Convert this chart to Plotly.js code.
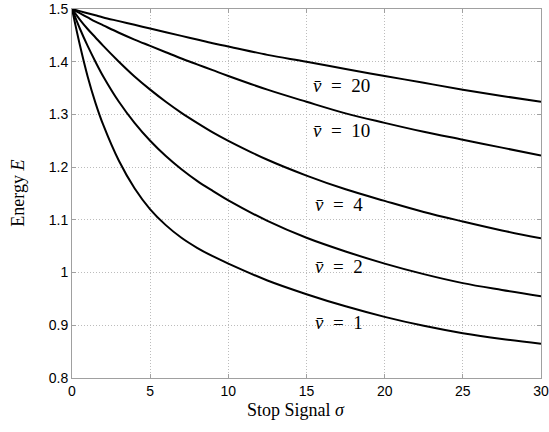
<!DOCTYPE html>
<html>
<head>
<meta charset="utf-8">
<script src="https://cdn.plot.ly/plotly-3.0.1.min.js"></script>
<style>html,body{margin:0;padding:0;background:#fff;}#chart{width:549px;height:432px;}</style>
</head>
<body>
<div id="chart"></div>
<script>
const sigma = [0, 0.5, 1, 1.5, 2, 3, 4, 5, 6, 7, 8, 9, 10, 12.5, 15, 17.5, 20, 22.5, 25, 27.5, 30];
const energyV1  = [1.5, 1.432, 1.372, 1.322, 1.280, 1.212, 1.160, 1.120, 1.090, 1.066, 1.047, 1.031, 1.017, 0.985, 0.959, 0.936, 0.916, 0.899, 0.885, 0.874, 0.865];
const energyV2  = [1.5, 1.463, 1.430, 1.400, 1.372, 1.324, 1.284, 1.250, 1.221, 1.196, 1.174, 1.155, 1.137, 1.098, 1.066, 1.040, 1.017, 0.997, 0.980, 0.967, 0.955];
const energyV4  = [1.5, 1.480, 1.462, 1.446, 1.430, 1.400, 1.372, 1.347, 1.324, 1.303, 1.284, 1.266, 1.250, 1.214, 1.184, 1.158, 1.136, 1.115, 1.097, 1.080, 1.065];
const energyV10 = [1.5, 1.492, 1.484, 1.476, 1.469, 1.455, 1.442, 1.430, 1.418, 1.406, 1.395, 1.384, 1.373, 1.347, 1.324, 1.302, 1.284, 1.267, 1.252, 1.237, 1.222];
const energyV20 = [1.5, 1.496, 1.492, 1.488, 1.484, 1.477, 1.470, 1.463, 1.456, 1.449, 1.442, 1.435, 1.429, 1.413, 1.400, 1.386, 1.373, 1.360, 1.347, 1.335, 1.324];

const seriesNames = ['v̄ = 1', 'v̄ = 2', 'v̄ = 4', 'v̄ = 10', 'v̄ = 20'];
const labelText = ['<i>v̄</i>\u2002=\u20021', '<i>v̄</i>\u2002=\u20022', '<i>v̄</i>\u2002=\u20024', '<i>v̄</i>\u2002=\u200210', '<i>v̄</i>\u2002=\u200220'];
const labelX = [15.4, 15.4, 15.4, 15.3, 15.3];
const labelY = [0.906, 1.012, 1.129, 1.270, 1.355];
const xTicks = [0, 5, 10, 15, 20, 25, 30];
const yTicks = [0.8, 0.9, 1, 1.1, 1.2, 1.3, 1.4, 1.5];
const xTitle = 'Stop Signal <i>σ</i>';
const yTitle = 'Energy <i>E</i>';

const allY = [energyV1, energyV2, energyV4, energyV10, energyV20];
const traces = allY.map((ys, i) => ({
  x: sigma, y: ys, type: 'scatter', mode: 'lines', name: seriesNames[i],
  line: {color: '#000', width: 2, shape: 'spline', smoothing: 1},
  hoverinfo: 'skip'
}));

const serif = 'Liberation Serif, DejaVu Serif, serif';
const annotations = labelText.map((t, i) => ({
  x: labelX[i], y: labelY[i], xref: 'x', yref: 'y', text: t, showarrow: false,
  xanchor: 'left', yanchor: 'middle',
  font: {family: serif, size: 19, color: '#000'}
}));
annotations.push({
  x: 0.478, y: -0.055, xref: 'paper', yref: 'paper', text: xTitle, showarrow: false,
  xanchor: 'center', yanchor: 'top', font: {family: serif, size: 18, color: '#000'}
});
annotations.push({
  x: -0.117, y: 0.5, xref: 'paper', yref: 'paper', text: yTitle, showarrow: false,
  textangle: -90, xanchor: 'center', yanchor: 'middle', font: {family: serif, size: 18, color: '#000'}
});

const axisCommon = {
  showline: true, linecolor: '#a0a0a0', linewidth: 1, mirror: 'ticks',
  ticks: 'inside', ticklen: 4, tickcolor: '#a0a0a0',
  showgrid: true, gridcolor: '#bcbcbc', griddash: '1px,2px', gridwidth: 1,
  zeroline: false,
  tickfont: {family: 'Liberation Sans, Arial, sans-serif', size: 14, color: '#000'}
};

const layout = {
  width: 549, height: 432,
  margin: {l: 72, r: 8, t: 9, b: 54},
  paper_bgcolor: '#fff', plot_bgcolor: '#fff',
  showlegend: false, hovermode: false,
  xaxis: Object.assign({}, axisCommon, {
    range: [0, 30], tickvals: xTicks, ticktext: xTicks.map(String)
  }),
  yaxis: Object.assign({}, axisCommon, {
    range: [0.8, 1.5], tickvals: yTicks, ticktext: yTicks.map(String)
  }),
  annotations: annotations
};

Plotly.newPlot('chart', traces, layout, {displayModeBar: false, staticPlot: true});
</script>
</body>
</html>
